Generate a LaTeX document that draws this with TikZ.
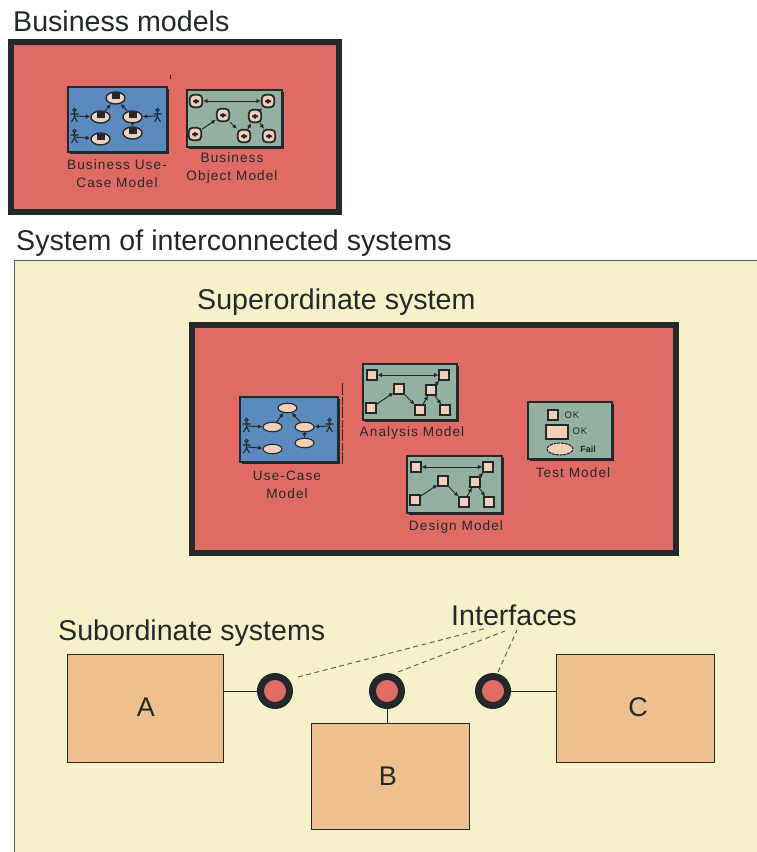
\documentclass[tikz,border=0pt]{standalone}
\usepackage{fontspec}
\setmainfont{Liberation Sans}
\usetikzlibrary{arrows.meta,shapes.geometric,calc}
\definecolor{ink}{HTML}{23292A}
\definecolor{redfill}{HTML}{E06A64}
\definecolor{cream}{HTML}{F6F1C8}
\definecolor{bluefill}{HTML}{5B8BBE}
\definecolor{greenfill}{HTML}{94B0A0}
\definecolor{peach}{HTML}{F2CFBB}
\definecolor{tan}{HTML}{EEC08E}
\definecolor{panelline}{HTML}{4F6A66}
\tikzset{
  x=1pt,y=-1pt,
  titletext/.style={anchor=base west,inner sep=0,text=ink,font=\fontsize{28.6}{32}\selectfont},
  smalltext/.style={inner sep=0,text=ink,align=center,font=\fontsize{13.6}{18}\selectfont\addfontfeatures{LetterSpace=8}},
  redbox/.style={draw=ink,fill=redfill,line width=6pt},
  minibox/.style={draw=ink,line width=1.2pt,anchor=north west,inner sep=0,outer sep=0},
  shadowline/.style={draw=ink,line width=2.2pt},
  ucplain/.style={ellipse,draw=ink,fill=peach,line width=1.1pt,minimum width=19pt,minimum height=9.5pt,inner sep=0},
  ucbiz/.style={ellipse,draw=ink,fill=peach,line width=1.4pt,minimum width=19pt,minimum height=12pt,inner sep=0,
     path picture={\fill[ink] ([xshift=-4pt,yshift=-1pt]path picture bounding box.center) rectangle ([xshift=4pt,yshift=5pt]path picture bounding box.center);}},
  sqplain/.style={draw=ink,fill=peach,line width=1.1pt,minimum size=10pt,inner sep=0},
  sqbiz/.style={rectangle,rounded corners=4pt,draw=ink,fill=peach,line width=1.8pt,minimum size=12.5pt,inner sep=0,
     path picture={\fill[ink] ([xshift=-3pt,yshift=-2.5pt]path picture bounding box.center) rectangle ([xshift=3pt,yshift=2pt]path picture bounding box.center);}},
  minilink/.style={draw=ink,line width=1pt,-{Latex[length=4.5pt,width=4.5pt]}},
  minilinktwo/.style={draw=ink,line width=1pt,{Latex[length=4.5pt,width=4.5pt]}-{Latex[length=4.5pt,width=4.5pt]}},
  sysbox/.style={draw=ink,fill=tan,line width=.8pt,anchor=north west,inner sep=0,outer sep=0},
  iface/.style={circle,draw=ink,fill=redfill,line width=7pt,minimum size=29pt,inner sep=0,outer sep=0},
  wire/.style={draw=ink,line width=.9pt},
  dashline/.style={draw=panelline,line width=1pt,dash pattern=on 5pt off 3.5pt},
}
% #1 name, #2 x, #3 y, #4 w, #5 h, #6 fill
\newcommand\miniframe[6]{%
  \node[minibox,fill=#6,minimum width=#4pt,minimum height=#5pt] (#1) at (#2,#3) {};
  \draw[shadowline] ($(#1.north east)+(1pt,-1.5pt)$) -- ($(#1.south east)+(1pt,-1pt)$) -- ($(#1.south west)+(1.5pt,-1pt)$);
}
\newcommand\stickman[2]{%
  \coordinate (#1) at (#2);
  \draw[ink,line width=1.1pt] ($(#1)+(0,-6)$) circle[radius=1.6pt]
    ($(#1)+(0,-4)$) -- ($(#1)+(0,1)$) ($(#1)+(-4,-2)$) -- ($(#1)+(4,-2)$)
    ($(#1)+(0,1)$) -- ($(#1)+(-3,6)$) ($(#1)+(0,1)$) -- ($(#1)+(3,6)$);
}
% use case diagram: #1 prefix, #2 x, #3 y, #4 ellipse style
\newcommand\ucdiagram[4]{%
  \begin{scope}[shift={(#2,#3)}]
    \node[#4] (#1a) at (47.5,11) {};
    \node[#4] (#1b) at (32.5,30) {};
    \node[#4] (#1c) at (64.5,30) {};
    \node[#4] (#1d) at (64.5,46) {};
    \node[#4] (#1e) at (32.5,52) {};
    \stickman{#1f}{6.5,29}
    \stickman{#1g}{89.5,29}
    \stickman{#1h}{6.5,50}
    \draw[minilink] (#1f) -- (#1b);
    \draw[minilink] (#1g) -- (#1c);
    \draw[minilink] (#1h) -- (#1e);
    \draw[minilink] (#1b) -- (#1a);
    \draw[minilink] (#1c) -- (#1a);
    \draw[minilink] (#1c) -- (#1d);
  \end{scope}
}
% class diagram: #1 prefix, #2 x, #3 y, #4 square style
\newcommand\classdiagram[4]{%
  \begin{scope}[shift={(#2,#3)}]
    \node[#4] (#1a) at (9,11) {};
    \node[#4] (#1b) at (81,11) {};
    \node[#4] (#1c) at (36,25) {};
    \node[#4] (#1d) at (68,26) {};
    \node[#4] (#1e) at (8,44) {};
    \node[#4] (#1f) at (57,46) {};
    \node[#4] (#1g) at (82,46) {};
    \draw[minilinktwo] (#1a) -- (#1b);
    \draw[minilink] (#1e) -- (#1c);
    \draw[minilink] (#1c) -- (#1f);
    \draw[minilink] (#1f) -- (#1d);
    \draw[minilink] (#1d) -- (#1b);
    \draw[minilink] (#1d) -- (#1g);
  \end{scope}
}
\begin{document}
\begin{tikzpicture}
\useasboundingbox (0,0) rectangle (756,852);
\fill[white] (0,0) rectangle (756,852);

% Business models
\node[titletext] (titlebiz) at (13,31) {Business models};
\draw[redbox] (11,42) rectangle (339,212);
\miniframe{bucbox}{68}{87}{99}{65}{bluefill}
\ucdiagram{buc}{68}{87}{ucbiz}
\miniframe{bobox}{187}{90}{95}{57}{greenfill}
\classdiagram{bo}{187}{90}{sqbiz}
\node[smalltext] (buclabel) at (117,174) {Business Use-\\Case Model};
\node[smalltext] (bolabel) at (232,168) {Business\\Object Model};
\fill[ink] (169.5,75) rectangle (171,79);

% System of interconnected systems
\node[titletext] (titlesys) at (16,250) {System of interconnected systems};
\fill[cream] (14,260) rectangle (757,853);
\draw[panelline,line width=.9pt] (14,853) -- (14,260) -- (757,260);

% Superordinate system
\node[titletext] (titlesup) at (197,309) {Superordinate system};
\draw[redbox] (192,325) rectangle (676,553);
\miniframe{ucbox}{240}{397}{98}{65}{bluefill}
\ucdiagram{uc}{240}{397}{ucplain}
\draw[ink,line width=.8pt,dash pattern=on 12pt off 1.5pt on 8pt off 1.5pt] (342.5,383) -- (342.5,464);
\miniframe{anbox}{363}{364}{94}{56}{greenfill}
\classdiagram{an}{363}{364}{sqplain}
\miniframe{debox}{407}{456}{95}{57}{greenfill}
\classdiagram{de}{407}{456}{sqplain}
\miniframe{tebox}{528}{402}{84}{57}{greenfill}
\node[sqplain,minimum size=10pt] (tea) at (553,415) {};
\node[draw=ink,fill=peach,line width=1.1pt,minimum width=22pt,minimum height=14pt,inner sep=0] (teb) at (557,432) {};
\node[ellipse,draw=ink,fill=peach,line width=1.1pt,dash pattern=on 3pt off .8pt,minimum width=26pt,minimum height=12pt,inner sep=0] (tec) at (560,449) {};
\node[inner sep=0,text=ink,font=\fontsize{9.5}{10}\selectfont\addfontfeatures{LetterSpace=10}] (teok) at (572,415) {OK};
\node[inner sep=0,text=ink,font=\fontsize{9.5}{10}\selectfont\addfontfeatures{LetterSpace=10}] (teokb) at (580,431) {OK};
\node[inner sep=0,text=ink,font=\fontsize{9}{10}\selectfont\bfseries] (tefail) at (588,449) {Fail};
\node[smalltext] (uclabel) at (287,485) {Use-Case\\Model};
\node[smalltext] (anlabel) at (412,433) {Analysis Model};
\node[smalltext] (delabel) at (456,527) {Design Model};
\node[smalltext] (telabel) at (573,473) {Test Model};

% Subordinate systems
\node[titletext] (titlesub) at (58,640) {Subordinate systems};
\node[titletext] (titleint) at (451,625) {Interfaces};
\node[sysbox,minimum width=156pt,minimum height=108pt] (boxa) at (67,654) {};
\node[sysbox,minimum width=158pt,minimum height=106pt] (boxb) at (311,723) {};
\node[sysbox,minimum width=158pt,minimum height=108pt] (boxc) at (556,654) {};
\node[inner sep=0,text=ink,font=\fontsize{27}{30}\selectfont] (la) at (146,707) {A};
\node[inner sep=0,text=ink,font=\fontsize{27}{30}\selectfont] (lb) at (388,776) {B};
\node[inner sep=0,text=ink,font=\fontsize{27}{30}\selectfont] (lc) at (638,707) {C};
\node[iface] (ia) at (275,691) {};
\node[iface] (ib) at (387,691) {};
\node[iface] (ic) at (493,691) {};
\draw[wire] (ia.west) -- (ia.west -| boxa.east);
\draw[wire] (ib.south) -- (ib.south |- boxb.north);
\draw[wire] (ic.east) -- (ic.east -| boxc.west);
\coordinate (da) at (298,677);
\coordinate (db) at (398,672);
\coordinate (dc) at (498,672);
\coordinate (ea) at (487,628);
\coordinate (eb) at (505,631);
\coordinate (ec) at (517,630);
\draw[dashline] (da) -- (ea);
\draw[dashline] (db) -- (eb);
\draw[dashline] (dc) -- (ec);
\end{tikzpicture}
\end{document}
